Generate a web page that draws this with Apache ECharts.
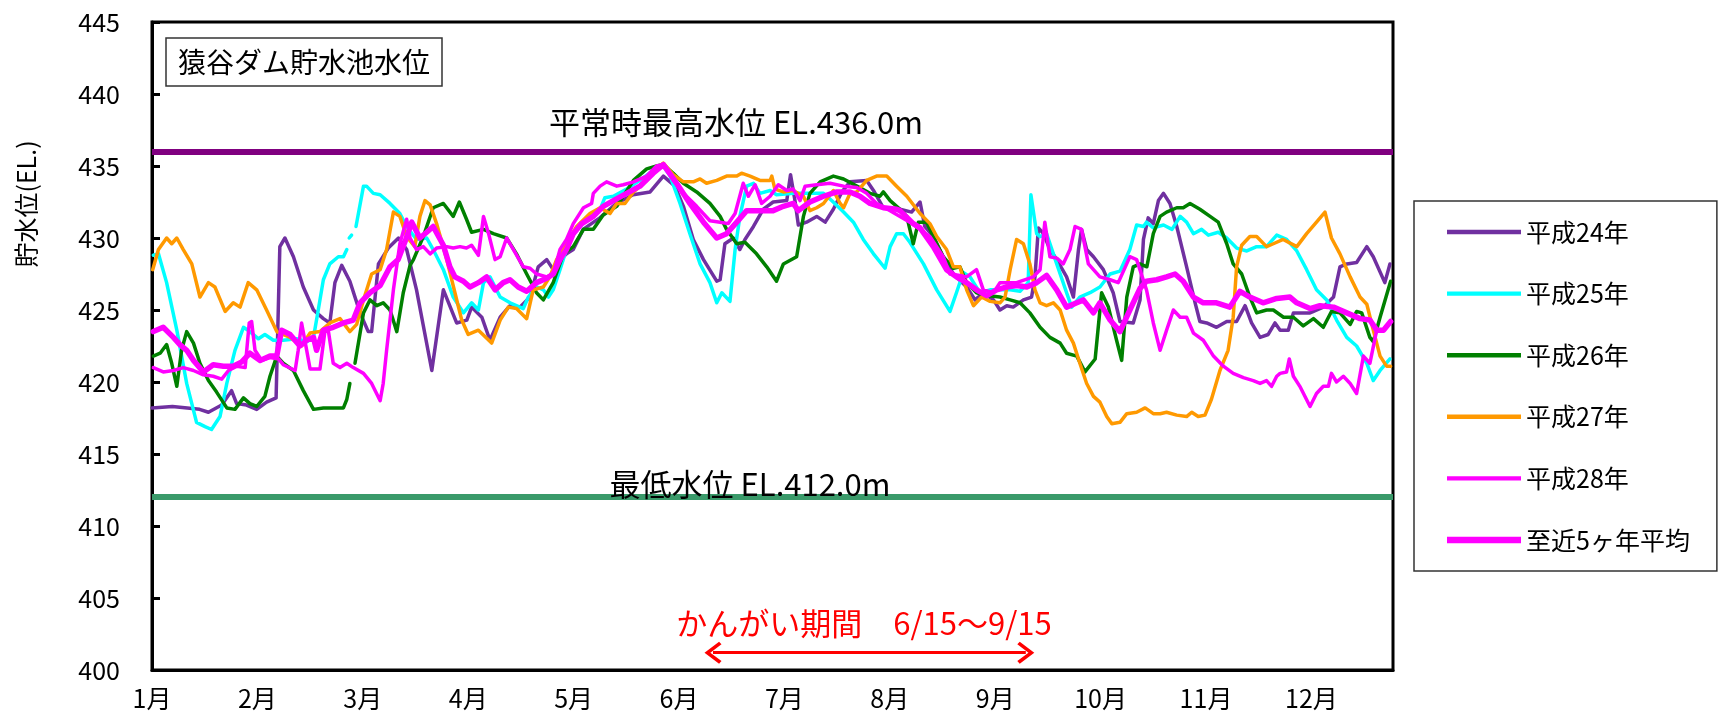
<!DOCTYPE html>
<html>
<head>
<meta charset="utf-8">
<script src="https://cdn.jsdelivr.net/npm/echarts@6.0.0/dist/echarts.min.js"></script>
<style>
html,body{margin:0;padding:0;background:#fff;}
#chart{width:1726px;height:719px;}
</style>
</head>
<body>
<div id="chart"></div>
<script>
// ---- data: [day of year (0 = Jan 1), water level EL. m] ----
const seriesNames = ['平成24年','平成25年','平成26年','平成27年','平成28年','至近5ヶ年平均'];
const monthLabels = ['1月','2月','3月','4月','5月','6月','7月','8月','9月','10月','11月','12月'];
const yTicks = [400,405,410,415,420,425,430,435,440,445];
const refLevels = [436.0, 412.0];
const refLabels = ['平常時最高水位 EL.436.0m', '最低水位 EL.412.0m'];
const irrigationDays = [165, 257];
const irrigationLabel = 'かんがい期間　6/15～9/15';

const h24 = [[0,418.2],[6,418.3],[14,418.1],[16.6,417.9],[20.5,418.4],[23.4,419.4],[24.9,418.5],[27.8,418.4],[30.8,418.1],[33.7,418.6],[36.5,418.9],[37.6,429.4],[39.1,430.0],[41.6,428.7],[44.5,426.6],[47.5,425.0],[50.4,424.4],[52.3,424.1],[53.8,426.9],[55.8,428.1],[58.2,427.0],[61.2,424.8],[63.6,423.5],[64.6,423.5],[66.6,428.2],[69.5,429.3],[72.5,430.0],[74.9,429.2],[77.8,426.4],[82.3,420.8],[85.7,426.4],[89.6,424.1],[92.6,424.3],[94.0,425.2],[97.0,424.5],[99.4,422.9],[102.4,424.5],[105.3,425.3],[108.2,425.2],[111.2,425.9],[113.6,428.0],[116.1,428.5],[118.0,427.8],[120.0,428.5],[121.9,428.9],[123.9,429.2],[126.8,430.6],[131.7,431.4],[136.6,432.4],[141.5,433.0],[146.5,433.2],[150.4,434.3],[153.8,433.6],[156.3,432.2],[159.2,429.9],[162.2,428.5],[166.1,427.0],[167.1,427.1],[168.5,429.6],[171.0,430.0],[172.9,429.2],[174.4,429.9],[176.9,430.8],[179.8,432.0],[182.7,432.5],[186.7,432.6],[187.8,434.4],[189.1,432.6],[190.1,430.9],[192.5,431.1],[195.5,431.5],[198.0,431.1],[200.4,432.0],[202.9,433.2],[205.3,433.9],[210.2,434.0],[212.2,433.3],[215.1,432.1],[220.0,432.0],[223.4,431.8],[225.9,432.5],[227.3,430.8],[229.8,430.1],[232.7,428.7],[235.7,427.5],[239.6,426.6],[242.1,425.7],[244.5,426.2],[247.5,425.7],[249.4,425.0],[251.4,425.3],[253.3,425.2],[256.3,425.7],[258.7,425.9],[259.7,427.3],[260.7,430.7],[262.2,430.3],[264.1,429.2],[266.1,428.5],[269.0,427.3],[271.0,425.9],[272.5,429.2],[273.4,430.6],[274.9,429.2],[276.9,428.7],[279.8,427.8],[282.7,426.2],[284.7,424.2],[288.6,424.1],[290.6,425.7],[291.6,429.9],[293.0,431.4],[294.5,431.0],[296.0,432.6],[297.5,433.1],[299.4,432.4],[301.4,430.8],[304.3,428.0],[306.8,425.5],[308.2,424.2],[310.2,424.1],[313.1,423.8],[316.1,424.2],[319.0,424.2],[321.5,425.3],[323.4,424.1],[325.9,423.1],[328.3,423.3],[330.3,424.1],[331.8,423.6],[334.2,423.6],[335.7,424.8],[340.6,424.8],[344.5,425.2],[347.5,425.9],[349.4,428.0],[351.4,428.2],[354.3,428.3],[357.3,429.4],[359.2,428.7],[362.6,426.9],[364.1,428.2]];

const h25 = [[0.4,428.8],[1.9,428.9],[4.3,426.9],[7.3,423.6],[10.2,419.9],[13.1,417.2],[15.6,416.9],[17.5,416.7],[20.0,417.6],[22.0,419.9],[24.4,422.2],[26.9,423.8],[28.8,423.5],[31.3,423.0],[33.2,423.3],[35.7,422.9],[38.6,422.9],[42.5,423.0],[45.5,422.8],[47.5,423.1],[48.9,425.0],[50.4,427.1],[52.3,428.2],[54.8,428.7],[56.3,428.7],[57.3,429.2],[57.7,null],[58.0,430.0],[58.7,430.2],[59.2,null],[60.0,430.8],[62.2,433.6],[63.1,433.6],[65.1,433.1],[67.1,433.0],[70.0,432.4],[72.9,431.7],[74.9,430.8],[77.8,429.9],[80.8,430.0],[82.7,429.2],[85.7,427.8],[88.6,425.9],[91.6,424.8],[94.0,425.5],[96.0,425.0],[97.5,426.9],[99.4,427.3],[102.4,425.9],[105.3,425.5],[109.2,425.1],[110.7,425.9],[113.1,426.6],[115.1,426.4],[116.6,425.9],[118.0,426.4],[120.0,427.8],[121.9,429.2],[123.9,430.3],[125.9,430.8],[128.8,431.5],[131.8,432.0],[133.2,432.8],[135.7,432.9],[139.6,433.4],[143.5,434.0],[147.4,434.7],[150.4,435.0],[152.4,434.3],[155.3,432.4],[158.2,430.3],[161.2,428.2],[164.1,426.9],[166.1,425.5],[167.6,426.2],[170.0,425.6],[171.5,429.2],[172.9,431.5],[174.9,433.6],[176.9,433.8],[178.8,433.1],[181.8,433.3],[183.7,433.0],[188.6,433.1],[193.5,433.1],[197.5,433.1],[199.9,432.6],[203.4,431.8],[206.3,431.1],[209.2,429.9],[212.2,428.9],[215.6,427.9],[217.1,429.4],[219.0,430.3],[221.0,430.3],[222.9,429.7],[226.9,428.2],[230.8,426.4],[234.7,424.9],[236.6,426.2],[238.6,427.6],[240.6,427.3],[243.5,426.2],[246.5,426.4],[249.4,426.4],[252.4,426.4],[255.3,426.3],[257.7,426.9],[258.5,433.0],[260.2,430.3],[261.2,430.1],[263.1,430.3],[266.1,428.2],[269.0,426.2],[270.5,425.2],[272.9,425.9],[275.9,426.2],[278.8,426.6],[281.8,427.5],[284.7,427.7],[287.6,429.2],[289.6,430.9],[291.6,430.8],[292.5,431.1],[294.5,430.7],[297.5,430.9],[300.0,430.6],[302.4,431.5],[304.3,431.1],[306.3,430.3],[308.7,430.6],[310.7,430.2],[313.6,430.4],[316.1,430.0],[319.0,429.3],[322.0,429.1],[324.9,429.4],[327.8,429.4],[330.8,430.2],[333.7,429.9],[336.7,429.1],[339.6,427.8],[342.5,426.4],[345.5,425.7],[348.4,424.3],[351.4,423.1],[354.3,422.5],[357.3,421.3],[359.2,420.1],[361.2,420.8],[364.1,421.6]];

const h26 = [[0.4,421.8],[2.4,422.0],[4.3,422.6],[5.8,421.3],[7.3,419.7],[8.7,422.2],[10.2,423.5],[12.2,422.7],[14.1,421.3],[16.6,420.1],[19.0,419.3],[22.0,418.2],[24.4,418.1],[26.9,418.9],[28.8,418.5],[30.8,418.3],[33.2,419.0],[34.7,420.4],[36.7,421.8],[38.6,421.3],[41.6,420.8],[44.5,419.4],[47.5,418.1],[50.4,418.2],[53.3,418.2],[56.3,418.2],[57.3,418.8],[58.2,419.9],[59.0,null],[59.7,421.3],[62.2,424.8],[64.1,425.7],[66.1,425.3],[68.0,425.5],[70.0,425.0],[72.0,423.5],[73.9,426.2],[75.9,428.1],[76.9,428.5],[79.8,430.1],[82.7,432.1],[85.7,432.4],[88.6,431.5],[90.4,432.5],[92.5,431.3],[94.0,430.4],[97.5,430.6],[100.4,430.3],[104.3,430.0],[107.2,428.9],[110.2,427.5],[113.1,426.2],[115.1,425.7],[118.0,426.9],[121.0,428.9],[123.9,429.4],[126.9,430.6],[129.8,430.6],[132.7,431.6],[136.7,432.2],[141.6,434.0],[145.5,434.8],[148.4,435.0],[150.4,435.1],[153.3,434.5],[156.3,433.8],[160.2,433.2],[164.1,432.4],[167.1,431.5],[169.0,430.6],[172.0,429.6],[174.4,429.7],[177.8,428.9],[180.8,428.0],[183.7,427.0],[185.7,428.2],[189.6,428.7],[191.6,431.5],[193.5,433.1],[196.5,433.9],[200.4,434.3],[203.4,434.1],[207.3,433.6],[211.2,433.1],[214.1,432.9],[215.1,433.2],[217.1,432.6],[220.0,432.0],[222.0,431.5],[223.9,429.6],[225.4,431.1],[227.8,431.1],[229.8,430.1],[232.7,428.7],[235.7,427.9],[237.6,428.0],[239.6,426.9],[242.5,426.2],[245.5,426.0],[249.4,425.9],[252.4,425.7],[255.3,425.5],[258.2,424.8],[261.2,423.8],[264.1,423.1],[267.1,422.7],[269.0,422.0],[272.0,421.8],[274.4,420.7],[277.4,421.6],[279.3,426.2],[281.3,425.2],[283.7,422.9],[285.2,421.5],[286.7,425.9],[288.6,428.0],[290.6,428.2],[292.6,428.0],[294.5,430.3],[296.5,431.5],[298.4,431.8],[301.4,432.1],[303.3,432.1],[305.3,432.4],[308.2,432.0],[311.2,431.5],[313.6,431.1],[316.1,429.6],[318.0,428.2],[320.5,427.5],[322.9,425.9],[324.9,424.8],[327.8,425.0],[329.8,425.0],[332.8,424.5],[335.7,424.5],[338.6,423.9],[341.6,424.4],[344.5,423.8],[346.9,424.9],[349.4,424.8],[352.4,424.0],[354.3,424.9],[355.8,424.8],[358.2,423.1],[359.2,422.8],[361.2,424.5],[364.3,427.0]];

const h27 = [[0.2,427.8],[1.9,429.2],[4.3,430.0],[5.8,429.6],[7.3,430.0],[9.2,429.2],[11.7,428.2],[14.1,425.9],[16.6,426.9],[18.5,426.6],[21.5,424.9],[23.9,425.5],[25.9,425.2],[28.3,426.9],[30.8,426.4],[33.7,425.0],[36.7,423.5],[40.6,423.1],[44.0,422.5],[46.5,423.4],[49.4,423.5],[52.3,424.1],[55.3,424.4],[58.2,423.5],[60.2,424.0],[62.2,425.7],[64.6,427.5],[67.1,427.8],[69.0,429.2],[71.0,431.8],[72.9,431.5],[74.9,430.1],[77.3,429.4],[78.8,431.5],[80.3,432.6],[81.8,432.3],[83.7,431.0],[86.7,428.5],[89.1,426.2],[91.1,424.3],[93.0,423.3],[96.0,423.6],[99.9,422.7],[102.4,424.3],[104.8,425.2],[107.2,425.1],[110.2,424.4],[112.1,426.4],[115.1,426.6],[117.0,427.3],[119.0,428.5],[121.9,429.6],[124.9,430.8],[128.8,431.7],[131.8,432.1],[134.7,431.7],[136.7,432.4],[139.1,432.4],[141.6,433.2],[145.5,434.0],[148.4,434.8],[150.4,435.2],[153.3,434.4],[156.3,433.9],[159.2,433.9],[161.2,434.1],[163.1,433.8],[166.1,434.0],[169.0,434.3],[172.0,434.3],[173.4,434.5],[175.9,434.3],[178.8,434.0],[181.8,434.0],[182.3,434.3],[183.2,433.4],[185.7,433.2],[188.6,433.3],[191.6,432.9],[193.5,431.9],[195.5,432.1],[197.5,432.4],[200.4,433.3],[202.4,432.4],[203.4,432.1],[205.3,433.1],[207.3,433.2],[210.2,434.0],[213.1,434.3],[216.1,434.3],[219.0,433.6],[222.0,432.9],[225.9,431.7],[228.8,431.0],[230.8,430.1],[233.7,429.2],[235.7,428.0],[237.6,428.0],[239.6,426.4],[241.6,425.3],[244.0,425.9],[246.5,425.6],[249.4,425.5],[250.9,425.9],[252.4,427.8],[254.3,429.9],[256.3,429.6],[258.2,428.2],[259.7,426.4],[261.2,425.5],[263.1,425.3],[265.1,425.5],[267.1,425.0],[269.0,423.6],[271.0,422.7],[272.9,421.3],[274.9,419.9],[276.9,419.0],[278.8,418.6],[280.8,417.6],[282.3,417.1],[284.7,417.2],[286.7,417.8],[289.6,417.9],[292.1,418.2],[294.5,417.8],[296.5,417.8],[298.4,417.9],[301.4,417.7],[304.3,417.6],[305.8,417.9],[307.7,417.6],[309.7,417.7],[311.6,418.8],[314.1,420.8],[316.5,422.2],[318.0,424.5],[319.0,428.0],[320.5,429.5],[322.9,430.1],[324.9,430.1],[327.8,429.4],[329.8,429.6],[332.7,429.9],[336.7,429.4],[339.6,430.3],[342.5,431.1],[345.0,431.8],[346.9,430.0],[349.4,428.9],[352.4,427.3],[355.3,425.9],[357.3,425.4],[359.2,423.6],[361.2,421.8],[363.1,421.1],[364.3,421.1]];

const h28 = [[0.4,421.0],[3.3,420.7],[6.3,420.8],[9.2,421.0],[12.2,420.8],[15.1,420.5],[18.0,420.4],[20.5,420.2],[22.5,420.8],[25.0,421.1],[27.4,421.0],[28.6,424.1],[29.3,424.2],[30.3,422.2],[32.3,421.5],[34.7,421.7],[37.2,421.6],[38.6,421.2],[42.1,420.8],[43.0,422.2],[44.0,424.1],[45.5,422.2],[46.5,420.9],[49.4,420.9],[50.9,423.6],[51.9,423.5],[53.3,421.3],[55.3,421.0],[57.3,421.3],[59.2,421.0],[62.2,420.6],[64.6,419.9],[67.1,418.7],[68.0,419.9],[69.0,422.2],[71.0,426.4],[72.9,429.6],[74.9,431.3],[75.9,430.0],[77.8,429.2],[79.8,429.4],[81.8,428.9],[83.7,429.3],[86.7,429.4],[88.6,429.3],[90.6,429.4],[92.5,429.3],[94.0,429.5],[96.0,428.8],[97.5,431.5],[99.0,430.3],[100.9,428.5],[102.4,428.7],[104.3,430.0],[106.3,429.2],[109.2,428.0],[111.2,427.9],[113.1,427.5],[116.1,427.3],[118.0,427.5],[120.0,429.2],[121.9,429.9],[123.9,431.0],[126.9,432.1],[129.3,432.4],[129.8,433.1],[131.8,433.6],[133.7,433.9],[136.7,433.6],[138.6,433.7],[141.6,433.9],[145.5,434.3],[148.4,435.0],[150.4,435.1],[153.3,434.0],[156.3,433.1],[160.2,432.2],[164.1,431.2],[167.1,431.1],[169.5,431.0],[171.5,431.7],[173.9,433.8],[175.4,432.9],[177.4,433.7],[179.3,432.4],[181.8,432.9],[184.2,433.7],[186.7,433.3],[188.6,433.4],[190.6,432.6],[192.1,433.6],[195.5,433.7],[199.4,433.8],[203.4,433.6],[207.3,433.5],[210.2,433.1],[213.1,432.4],[217.1,431.9],[220.0,431.5],[222.9,431.1],[225.9,430.6],[228.8,430.1],[232.7,428.7],[234.7,427.5],[237.6,427.4],[239.6,427.3],[242.5,427.8],[244.5,426.4],[247.5,426.2],[249.4,426.9],[254.3,426.9],[259.2,427.3],[261.2,427.8],[262.6,431.1],[264.1,428.7],[266.1,428.6],[268.0,428.2],[270.0,429.2],[271.5,430.8],[273.4,430.6],[275.4,428.2],[278.8,427.3],[281.8,427.1],[284.2,426.9],[287.6,428.7],[289.6,428.5],[292.5,426.4],[294.5,424.1],[296.5,422.2],[298.4,423.6],[300.4,425.0],[302.4,424.5],[304.3,424.5],[306.3,423.4],[309.2,422.9],[312.2,421.8],[315.1,421.1],[318.0,420.6],[321.0,420.3],[323.9,420.1],[325.9,419.9],[327.8,420.1],[329.3,419.7],[330.8,420.4],[331.8,420.6],[333.7,420.7],[334.5,421.6],[335.7,420.4],[337.6,419.7],[340.6,418.3],[342.5,419.2],[344.5,419.7],[346.0,419.7],[346.9,420.6],[348.4,420.0],[350.4,420.4],[352.4,419.9],[354.3,419.2],[356.3,421.8],[358.2,421.3],[360.2,423.6],[362.2,423.6],[364.3,424.2]];

const avg5 = [[0.4,423.5],[3.3,423.8],[6.3,423.1],[8.2,422.6],[10.2,422.2],[12.2,421.5],[15.1,420.7],[18.0,421.2],[21.0,421.1],[23.9,421.1],[26.4,421.4],[28.8,422.0],[31.8,421.5],[34.7,421.8],[36.7,421.8],[38.1,423.6],[40.6,423.3],[43.5,422.5],[45.5,422.9],[47.5,423.1],[48.4,422.2],[50.4,423.6],[53.3,423.8],[56.3,424.1],[59.2,424.3],[61.2,425.5],[64.1,426.2],[67.1,426.7],[70.0,428.0],[72.4,428.5],[74.5,429.8],[76.4,431.1],[78.8,430.0],[80.8,430.4],[82.7,430.8],[85.7,429.5],[87.6,428.0],[89.1,427.3],[91.6,427.0],[93.5,426.6],[96.0,426.9],[98.4,427.3],[100.9,426.4],[103.3,426.9],[105.3,427.1],[107.7,426.6],[110.2,426.3],[113.1,426.9],[116.1,427.2],[118.0,427.5],[120.0,428.5],[121.9,429.2],[123.9,430.3],[126.4,431.0],[129.8,431.5],[132.7,432.2],[135.7,432.6],[139.6,433.1],[143.5,433.6],[147.4,434.5],[150.4,435.1],[154.3,433.8],[158.2,432.4],[162.2,431.1],[166.1,430.0],[169.0,430.3],[172.0,431.1],[174.9,431.9],[178.8,431.9],[182.7,431.9],[185.7,432.2],[188.6,432.4],[190.1,431.9],[193.5,432.5],[197.5,432.9],[201.4,433.2],[205.3,433.2],[208.2,432.9],[211.2,432.4],[215.1,432.1],[219.0,432.0],[220.0,431.9],[223.9,431.0],[225.9,430.7],[229.8,429.4],[233.7,427.8],[236.6,427.3],[239.6,426.9],[242.5,426.4],[245.5,426.0],[248.4,426.4],[251.4,426.6],[254.3,426.7],[257.3,426.6],[260.2,426.9],[263.1,427.4],[266.1,426.4],[269.0,425.2],[272.0,425.5],[273.9,425.7],[276.9,424.8],[278.8,425.5],[281.8,424.3],[284.7,423.5],[287.6,425.0],[290.6,426.5],[292.5,427.0],[295.5,427.1],[298.4,427.3],[300.9,427.5],[303.3,427.0],[306.3,425.9],[309.2,425.5],[313.1,425.5],[317.0,425.2],[320.0,426.3],[322.9,425.9],[326.8,425.5],[330.8,425.8],[334.7,425.9],[336.7,425.5],[340.6,425.1],[343.5,425.3],[347.5,425.2],[351.4,424.8],[355.3,424.4],[358.2,424.3],[360.2,423.6],[362.2,423.6],[364.3,424.2]];

// ---- chart ----
const FONT = '"Noto Sans CJK JP", "Noto Sans CJK SC", sans-serif';
const colors = ['#7030A0','#00FFFF','#008000','#FF9900','#FF00FF','#FF00FF'];
const widths = [3.5,3.5,3.5,3.5,3.5,5.5];
const legendIcons = [
  'path://M0,0 H100 V6 H0 Z','path://M0,0 H100 V6 H0 Z','path://M0,0 H100 V6 H0 Z',
  'path://M0,0 H100 V6 H0 Z','path://M0,0 H100 V6 H0 Z','path://M0,0 H100 V8.5 H0 Z'
];
const allData = [h24,h25,h26,h27,h28,avg5];
const chevron = 'path://M0,60 L50,0 L100,60 L88,70 L50,24 L12,70 Z';

const chart = echarts.init(document.getElementById('chart'), null, {renderer:'canvas'});

const dataSeries = seriesNames.map((name,i)=>({
  name: name,
  type: 'line',
  data: allData[i],
  symbol: 'none',
  showSymbol: false,
  connectNulls: false,
  smooth: false,
  lineStyle: {color: colors[i], width: widths[i], join: 'round', cap: 'round'},
  itemStyle: {color: colors[i]},
  z: 3 + i,
  silent: true
}));

const option = {
  animation: false,
  backgroundColor: '#fff',
  textStyle: {fontFamily: FONT},
  grid: {left: 152, right: 333, top: 22, bottom: 49, show: true, borderColor: '#000', borderWidth: 3, backgroundColor: 'transparent'},
  xAxis: {
    type: 'value', min: 0, max: 365, interval: 31,
    axisLine: {show: true, lineStyle: {color: '#000', width: 3}},
    axisTick: {show: false},
    splitLine: {show: false},
    axisLabel: {
      color: '#000', fontSize: 25, fontFamily: FONT, margin: 16, showMaxLabel: false,
      formatter: v => (v % 31 === 0 && v / 31 < monthLabels.length) ? monthLabels[v / 31] : ''
    }
  },
  yAxis: {
    type: 'value', min: yTicks[0], max: yTicks[yTicks.length - 1], interval: 5,
    axisLine: {show: true, lineStyle: {color: '#000', width: 3}},
    axisTick: {show: true, inside: true, length: 8, lineStyle: {color: '#000', width: 3}},
    splitLine: {show: false},
    axisLabel: {color: '#000', fontSize: 25, fontFamily: FONT, margin: 32}
  },
  legend: {
    data: seriesNames.map((n, i) => ({name: n, icon: legendIcons[i], itemStyle: {color: colors[i]}})),
    orient: 'vertical', left: 1414, top: 201,
    padding: [16, 27, 16, 33],
    itemWidth: 74, itemHeight: 14, itemGap: 31.6,
    borderColor: '#333', borderWidth: 1.5, backgroundColor: '#fff',
    selectedMode: false,
    textStyle: {fontSize: 25, color: '#000', fontFamily: FONT, lineHeight: 30}
  },
  series: [
    {
      type: 'line', data: [], silent: true, z: 2,
      markLine: {
        silent: true, symbol: 'none', animation: false,
        label: {show: false},
        data: [
          {yAxis: refLevels[0], lineStyle: {color: '#800080', width: 6, type: 'solid'}},
          {yAxis: refLevels[1], lineStyle: {color: '#3A9A6A', width: 6, type: 'solid'}}
        ]
      }
    },
    {
      type: 'line', data: [], silent: true, z: 2,
      markLine: {
        silent: true, animation: false,
        symbol: [chevron, chevron], symbolSize: [22, 17],
        label: {show: false},
        lineStyle: {color: '#FF0000', width: 3, type: 'solid'},
        data: [[{coord: [irrigationDays[0], 401.2]}, {coord: [irrigationDays[1], 401.2]}]]
      }
    }
  ].concat(dataSeries),
  graphic: [
    {type: 'rect', shape: {x: 166, y: 38, width: 276, height: 48}, style: {fill: '#fff', stroke: '#333', lineWidth: 1.5}, z: 100},
    {type: 'text', x: 304, y: 62, z: 101, style: {text: '猿谷ダム貯水池水位', fontSize: 28, fontFamily: FONT, fill: '#000', align: 'center', verticalAlign: 'middle'}},
    {type: 'text', x: 736, y: 122, z: 101, style: {text: refLabels[0], fontSize: 31, fontFamily: FONT, fill: '#000', align: 'center', verticalAlign: 'middle'}},
    {type: 'text', x: 750, y: 484, z: 101, style: {text: refLabels[1], fontSize: 31, fontFamily: FONT, fill: '#000', align: 'center', verticalAlign: 'middle'}},
    {type: 'text', x: 864, y: 623, z: 101, style: {text: irrigationLabel, fontSize: 31, fontFamily: FONT, fill: '#FF0000', align: 'center', verticalAlign: 'middle'}},
    {type: 'text', x: 26, y: 204, rotation: Math.PI / 2, z: 101, style: {text: '貯水位(EL.)', fontSize: 25, fontFamily: FONT, fill: '#000', align: 'center', verticalAlign: 'middle'}}
  ]
};
chart.setOption(option);
</script>
</body>
</html>
